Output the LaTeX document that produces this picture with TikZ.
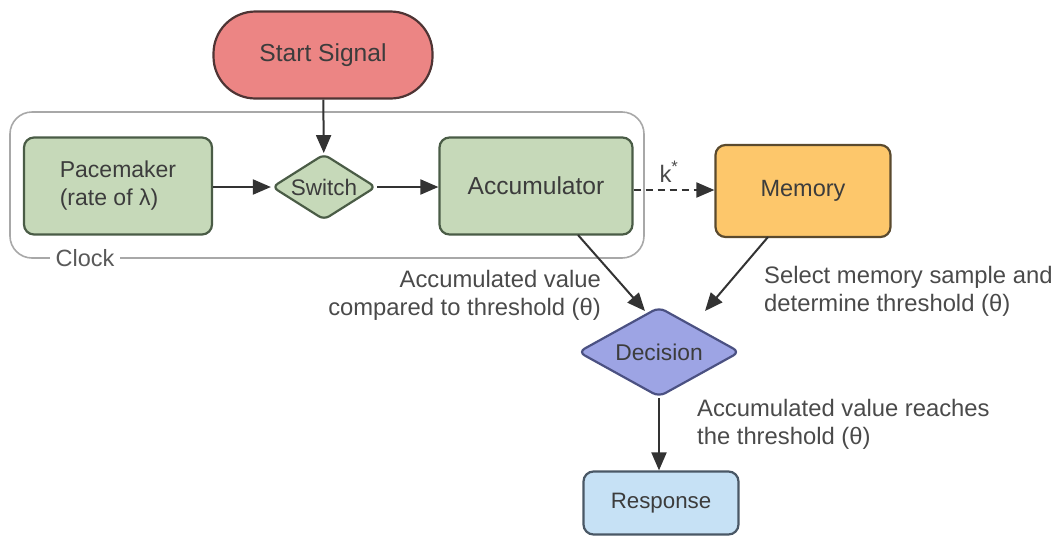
\documentclass[tikz,border=0pt]{standalone}
\usepackage{fontspec}
\setmainfont{Liberation Sans}
\usetikzlibrary{shapes.geometric,arrows.meta}
\definecolor{txt}{HTML}{3C3C3C}
\definecolor{ltxt}{HTML}{4A4A4A}
\definecolor{redf}{HTML}{EC8584}
\definecolor{redd}{HTML}{4E3434}
\definecolor{grnf}{HTML}{C6D9B9}
\definecolor{grnd}{HTML}{4A5C46}
\definecolor{memf}{HTML}{FDC76B}
\definecolor{memd}{HTML}{5A4A2E}
\definecolor{decf}{HTML}{9DA4E4}
\definecolor{decd}{HTML}{4B5182}
\definecolor{resf}{HTML}{C6E1F5}
\definecolor{resd}{HTML}{4A5866}
\definecolor{frame}{HTML}{A8A8A8}
\newcommand{\fs}[1]{\fontsize{#1}{28}\selectfont}
\tikzset{
  base/.style={line width=2.2pt, text=txt, font=\fs{23.5}, align=center, inner sep=0pt},
  boxg/.style={base, draw=grnd, fill=grnf, rounded corners=10pt, minimum width=188pt, minimum height=97pt},
  lbl/.style={text=ltxt, font=\fs{23.8}, inner sep=0pt},
  arr/.style={line width=2pt, draw=black!80, -{Triangle[length=18pt,width=15pt]}},
}
\begin{document}
\begin{tikzpicture}[x=1pt,y=-1pt]
\useasboundingbox (0,0) rectangle (1056,536);
% clock frame
\draw[frame, line width=1.6pt, rounded corners=22pt] (10,112) rectangle (644,258);
\node[lbl, fill=white, inner xsep=6pt, text=txt!85, font=\fs{23.5}] (clock) at (85,258) {Clock};
% nodes
\node[base, draw=redd, fill=redf, rounded corners=42pt, minimum width=219pt, minimum height=87pt, font=\fs{24.6}] (start) at (323,55) {Start Signal};
\node[boxg, align=left, font=\fs{23}] (pace) at (118,186) {Pacemaker\\(rate of λ)};
\node[base, diamond, aspect=1.6, draw=grnd, fill=grnf, minimum width=104pt, minimum height=66pt, rounded corners=6pt, font=\fs{22.5}] (switch) at (324,187) {Switch};
\node[boxg, minimum width=193pt, font=\fs{24.6}] (acc) at (536,186) {Accumulator};
\node[base, draw=memd, fill=memf, rounded corners=10pt, minimum width=175pt, minimum height=92pt] (mem) at (803,191) {Memory};
\node[base, diamond, aspect=1.8, draw=decd, fill=decf, minimum width=162pt, minimum height=90pt, rounded corners=7pt, font=\fs{22.8}] (dec) at (659,352) {Decision};
\node[base, draw=resd, fill=resf, rounded corners=10pt, minimum width=155pt, minimum height=63pt, font=\fs{22.3}] (resp) at (661,503) {Response};
% connectors
\draw[arr] (start) -- (switch);
\draw[arr] (pace.east |- switch) -- (switch);
\draw[arr] (switch) -- (acc.west |- switch);
\draw[arr, dashed, dash pattern=on 7pt off 5pt] (acc.east |- 0,190) -- node[lbl, above=7pt, xshift=-5pt] (kstar) {k\textsuperscript{*}} (mem.west |- 0,190);
\coordinate (accb) at (578,235);
\coordinate (memb) at (768,237);
\coordinate (decin1) at (645,311);
\coordinate (decin2) at (705,311);
\draw[arr] (accb) -- (decin1);
\draw[arr] (memb) -- (decin2);
\draw[arr] (dec.south) -- (dec.south |- resp.north);
% labels
\node[lbl, align=right, anchor=east] (l1) at (601,295) {Accumulated value\\compared to threshold (θ)};
\node[lbl, align=left, anchor=west] (l2) at (764,291) {Select memory sample and\\determine threshold (θ)};
\node[lbl, align=left, anchor=west] (l3) at (697,424) {Accumulated value reaches\\the threshold (θ)};
\end{tikzpicture}
\end{document}
